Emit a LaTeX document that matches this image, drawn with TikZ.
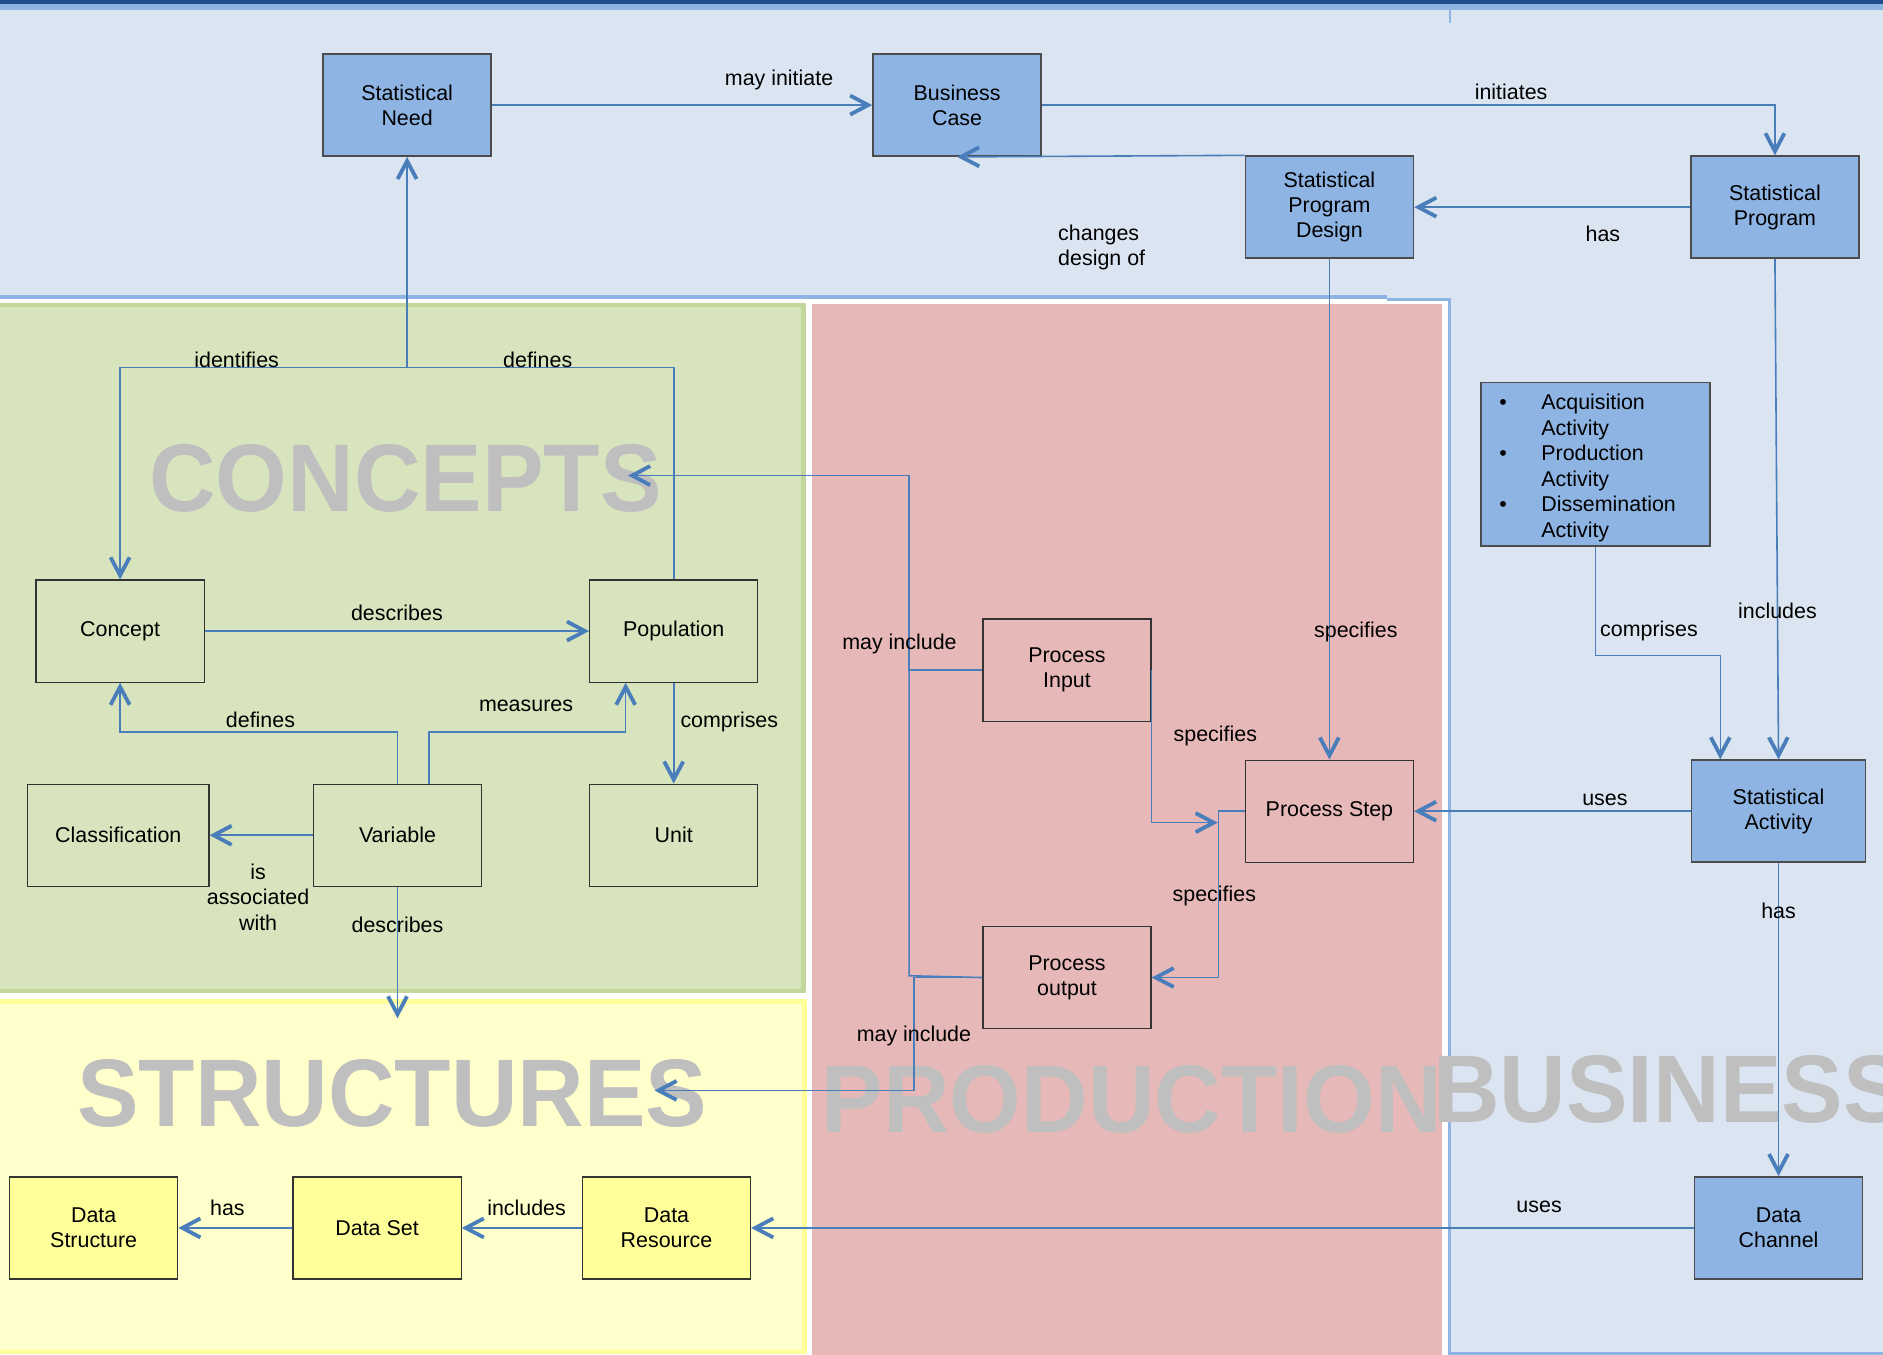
\documentclass[tikz,border=0pt]{standalone}
\usepackage{fontspec}
\setmainfont{Liberation Sans}
\usepackage{graphicx}
\usetikzlibrary{arrows.meta, positioning, calc}
\definecolor{bizblue}{HTML}{DBE5F1}
\definecolor{boxblue}{HTML}{8EB4E3}
\definecolor{bardark}{HTML}{1F4E8C}
\definecolor{concgreen}{HTML}{D7E4BD}
\definecolor{concedge}{HTML}{C3D69B}
\definecolor{prodpink}{HTML}{E6B9B8}
\definecolor{strucyel}{HTML}{FFFFCC}
\definecolor{strucedge}{HTML}{FFFF99}
\definecolor{linkblue}{HTML}{4A7EBB}
\definecolor{wmgray}{HTML}{BFBFBF}

\begin{document}
\begin{tikzpicture}[x=0.6pt, y=-0.6pt,
    box/.style={draw=black!80, line width=0.6pt, minimum width=84pt, minimum height=51pt,
                align=center, font=\fontsize{10.7}{12.6}\selectfont, inner sep=2pt},
    bluebox/.style={box, fill=boxblue, draw=black!70, line width=0.8pt},
    yelbox/.style={box, fill=strucedge},
    arr/.style={-{Straight Barb[length=9pt, width=9.5pt, line width=1.9pt]}, draw=linkblue, line width=0.8pt},
    link/.style={draw=linkblue, line width=0.8pt},
    lbl/.style={font=\fontsize{10.7}{12.6}\selectfont, align=center, inner sep=1pt},
    wmark/.style={font=\fontsize{48}{48}\selectfont\bfseries, text=wmgray, anchor=base west, inner sep=0pt},
  ]
  \clip (0,0) rectangle (1568,1128);
  % lanes
  \fill[bizblue] (0,0) rectangle (1568,1128);
  \fill[bardark] (0,0) rectangle (1568,3.5);
  \fill[boxblue] (0,3.5) rectangle (1568,8);
  \draw[boxblue, line width=1pt] (1207,8) -- (1207,19);
  \fill[white] (0,249) rectangle (1207,1128);
  \draw[boxblue, line width=2pt] (0,247) -- (1155,247);
  \draw[boxblue, line width=1.5pt] (1155,249) -- (1207,249) -- (1207,1127) -- (1580,1127);
  \draw[concedge, fill=concgreen, line width=2.2pt] (-10,254) rectangle (669,825);
  \fill[prodpink] (676,253) rectangle (1201,1140);
  \draw[strucedge, fill=strucyel, line width=2.2pt] (-10,834) rectangle (670,1126);

  \node[wmark] (wconc) at (124,426) {\scalebox{0.96}[1]{CONCEPTS}};
  \node[wmark] (wstruct) at (64,938) {\scalebox{0.96}[1]{STRUCTURES}};
  \node[wmark] (wprod) at (684,943) {\scalebox{0.96}[1]{PRODUCTION}};
  \node[wmark] (wbus) at (1193,935) {\scalebox{0.96}[1]{BUSINESS}};

  \node[bluebox] (need)  at (339,87.5)   {Statistical\\Need};
  \node[bluebox] (bcase) at (797,87.5)   {Business\\Case};
  \node[bluebox] (spd)   at (1107,172.5) {Statistical\\Program\\Design};
  \node[bluebox] (sprog) at (1478,172.5) {Statistical\\Program};
  \node[bluebox, minimum width=114.6pt, minimum height=79.8pt, text width=96pt,
        inner xsep=9pt, align=left, font=\fontsize{10.7}{12.8}\selectfont] (acts) at (1328.5,386.5)
       {\rule{0pt}{11.5pt}\makebox[21pt][l]{\textbullet}Acquisition\\\hspace*{21pt}Activity\\
        \makebox[21pt][l]{\textbullet}Production\\\hspace*{21pt}Activity\\
        \makebox[21pt][l]{\textbullet}Dissemination\\\hspace*{21pt}Activity};
  \node[bluebox, minimum width=87pt] (sact) at (1481,675.5) {Statistical\\Activity};
  \node[bluebox] (chan)  at (1481,1022.5) {Data\\Channel};

  \node[box] (pstep) at (1107,675.5) {Process Step};
  \node[box] (pin)   at (888.5,558)  {Process\\Input};
  \node[box, below=102pt of pin] (pout) {Process\\output};

  \node[box] (concept) at (100,525.5) {Concept};
  \node[box] (popn)    at (561,525.5) {Population};
  \node[box, minimum width=90.6pt] (classif) at (98.5,695.5) {Classification};
  \node[box] (var)     at (331,695.5) {Variable};
  \node[box] (unit)    at (561,695.5) {Unit};

  \node[yelbox] (dstruct) at (78,1022.5) {Data\\Structure};
  \node[yelbox, right=57pt of dstruct] (dset) {Data Set};
  \node[yelbox, right=60pt of dset] (dres) {Data\\Resource};

  \coordinate (jn) at (339,306);
  \coordinate (conctip) at (523,396);
  \coordinate (structip) at (545,908);
  \coordinate (structop) at (331,848);
  \coordinate (psin) at (1014,685);

  \draw[arr] (need) -- (bcase) node[lbl, pos=0.755, anchor=base, yshift=9.9pt] {may initiate};
  \draw[arr] (bcase.east) -| (sprog.north) node[lbl, pos=0.32, anchor=base, yshift=2.7pt] {initiates};
  \draw[arr] (spd.north west) -- (bcase.south)
    node[lbl, pos=0.658, anchor=north west, align=left, yshift=-33pt] {changes\\design of};
  \draw[arr] (sprog) -- (spd) node[lbl, pos=0.316, anchor=base, yshift=-17.1pt] {has};

  \draw[arr] (popn.north) |- (jn) node[lbl, pos=0.755, anchor=base] {defines} -- (need.south);
  \draw[arr] (jn) -| (concept.north) node[lbl, pos=0.297, anchor=base] {identifies};
  \draw[arr] (concept) -- (popn) node[lbl, pos=0.5, anchor=base, yshift=5.1pt] {describes};
  \draw[arr] (var.north) -- ++(0,-43) -| (concept.south)
    node[lbl, pos=0.247, anchor=base, yshift=2.4pt] {defines};
  \draw[arr] ([xshift=15.6pt]var.north) -- ++(0,-43) -| ([xshift=-24pt]popn.south)
    node[lbl, pos=0.247, anchor=base, yshift=10.2pt] {measures};
  \draw[arr] (popn) -- (unit) node[lbl, pos=0.39, anchor=west, xshift=2pt] {comprises};
  \draw[arr] (var) -- (classif) node[lbl, pos=0.53, yshift=-31pt] {is\\associated\\with};
  \draw[arr] (var) -- (structop) node[lbl, pos=0.29] {describes};

  \draw[arr] (pin.west) -- (757,558) |- (conctip) node[lbl, pos=0.068, xshift=-4.8pt] {may include};
  \draw[link] (pout.west) -- (757,812.5) -- (757,558);
  \draw[arr] (pout.west) -- ++(-57,0) |- (structip) node[lbl, pos=0.259] {may include};

  \draw[arr] (spd) -- (pstep) node[lbl, pos=0.746, xshift=13.2pt] {specifies};
  \draw[arr] (pin.east) |- (psin) node[lbl, pos=0.217, xshift=31.8pt] {specifies};
  \draw[arr] (pstep.west) -- ++(-22,0) |- (pout.east) node[lbl, pos=0.254, xshift=-2pt] {specifies};
  \draw[arr] (sact) -- (pstep) node[lbl, pos=0.31, anchor=base, yshift=2.7pt] {uses};

  \draw[arr] (sprog.south) -- (sact.north) node[lbl, pos=0.703] {includes};
  \draw[arr] (acts.south) -- ++(0,90.5) node[lbl, pos=0.773, anchor=west, xshift=1pt] {comprises}
    -| ([xshift=-29.1pt]sact.north);
  \draw[arr] (sact) -- (chan) node[lbl, pos=0.153] {has};
  \draw[arr] (chan) -- (dres) node[lbl, pos=0.164, anchor=base, yshift=7.5pt] {uses};
  \draw[arr] (dres) -- (dset) node[lbl, pos=0.46, anchor=base, yshift=6.3pt] {includes};
  \draw[arr] (dset) -- (dstruct) node[lbl, pos=0.57, anchor=base, yshift=6.3pt] {has};
\end{tikzpicture}
\end{document}
